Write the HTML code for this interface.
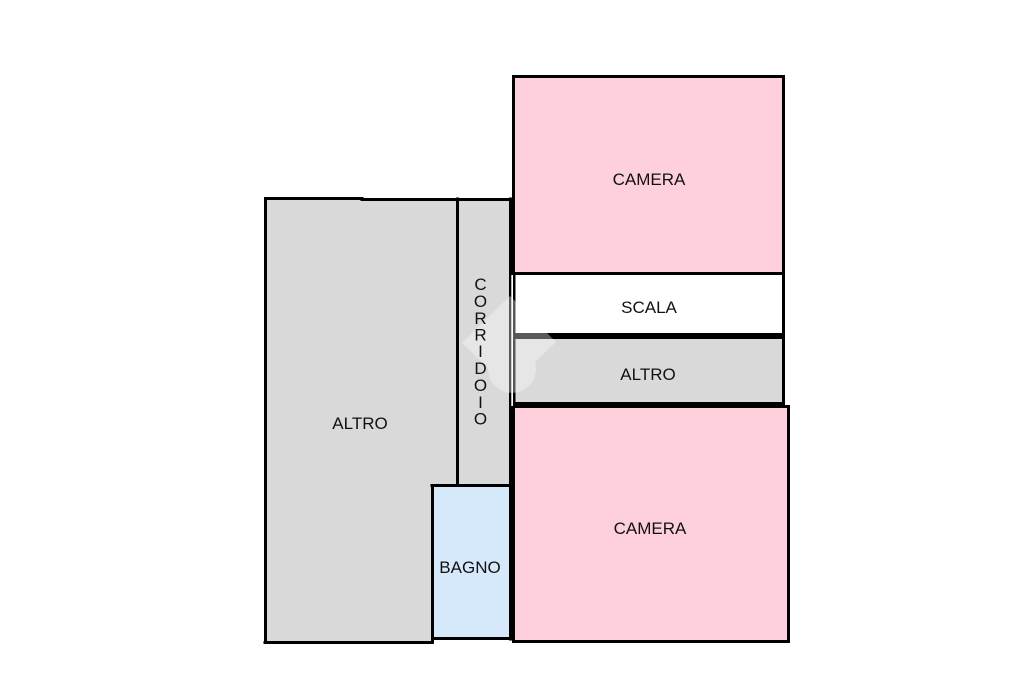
<!DOCTYPE html>
<html>
<head>
<meta charset="utf-8">
<style>
html,body{margin:0;padding:0;background:#fff;}
svg{display:block;}
text{font-family:"Liberation Sans",Arial,sans-serif;font-size:17px;fill:#111;text-anchor:middle;}
</style>
</head>
<body>
<svg width="1024" height="682" viewBox="0 0 1024 682" xmlns="http://www.w3.org/2000/svg">
  <rect x="0" y="0" width="1024" height="682" fill="#ffffff"/>

  <!-- fills -->
  <path d="M265 198 H458 V486 H432 V643 H265 Z" fill="#d9d9d9"/>
  <rect x="458" y="198" width="53" height="288" fill="#d9d9d9"/>
  <rect x="432" y="486" width="79" height="154" fill="#d5e9fb"/>
  <rect x="513" y="76" width="271" height="197" fill="#fdd0dc"/>
  <rect x="513" y="273" width="271" height="62" fill="#ffffff"/>
  <rect x="513" y="337" width="271" height="68" fill="#d9d9d9"/>
  <rect x="513" y="406" width="276" height="236" fill="#fdd0dc"/>

  <!-- walls -->
  <g stroke="#000" stroke-width="3" fill="none" stroke-linecap="square">
    <!-- big altro -->
    <path d="M265.5 642.5 V198.5 H362"/>
    <path d="M362 199.5 H510"/>
    <path d="M265 642.5 H432"/>
    <path d="M432.5 486 V642"/>
    <!-- corridor divider -->
    <path d="M457.5 199 V485"/>
    <!-- bagno -->
    <path d="M432 485.5 H510"/>
    <path d="M433 638.5 H510"/>
    <!-- corridor / bagno right wall -->
    <path d="M510.5 199 V639"/>
    <!-- top camera -->
    <path d="M513.5 273 V76.5 H783.5 V273"/>
    <path d="M513 273.5 H783"/>
    <!-- scala / altro right -->
    <path d="M783.5 273 V405"/>
    <!-- bottom camera -->
    <rect x="513.5" y="406.5" width="275" height="235"/>
  </g>
  <!-- thin left edge of scala/altro -->
  <rect x="513" y="274" width="2.5" height="133" fill="#000"/>
  <!-- thick double bands -->
  <rect x="513" y="333" width="272" height="6" fill="#000"/>
  <rect x="513" y="402" width="272" height="5" fill="#000"/>
  <!-- white gap between double lines -->
  <rect x="511.3" y="275" width="1.6" height="131" fill="#fff"/>

  <!-- watermark -->
  <g fill="#ffffff" opacity="0.35">
    <path d="M462 343 L510 296 L556 342 L535 362 A24 24 0 1 1 488 368 Z"/>
  </g>

  <!-- labels -->
  <text x="649" y="185">CAMERA</text>
  <text x="649" y="313">SCALA</text>
  <text x="648" y="380">ALTRO</text>
  <text x="360" y="429">ALTRO</text>
  <text x="650" y="534">CAMERA</text>
  <text x="470" y="573">BAGNO</text>

  <g>
    <text x="480.5" y="290">C</text>
    <text x="480.5" y="307">O</text>
    <text x="480.5" y="324">R</text>
    <text x="480.5" y="340.5">R</text>
    <text x="480.5" y="357">I</text>
    <text x="480.5" y="374">D</text>
    <text x="480.5" y="391">O</text>
    <text x="480.5" y="408">I</text>
    <text x="480.5" y="424.5">O</text>
  </g>
</svg>
</body>
</html>
